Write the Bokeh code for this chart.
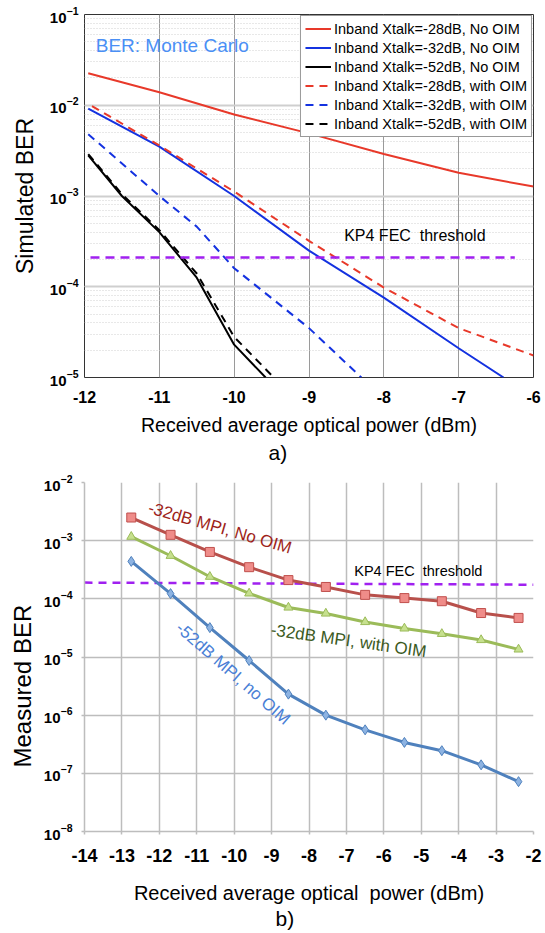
from bokeh.plotting import figure
from bokeh.models import Label, Title, FixedTicker, CustomJSTickFormatter
from bokeh.layouts import column
from bokeh.embed import file_html
from bokeh.resources import INLINE

FONT = "Liberation Sans"

# ---------------- (a) simulated BER data ----------------
x_28_no = [-11.95, -11, -10, -9, -8, -7, -6]
ber_28_no = [0.0225, 0.0139, 0.0079, 0.0049, 0.0029, 0.0018, 0.00127]

x_32_no = [-11.95, -11, -10, -9, -8, -7, -6.4]
ber_32_no = [9.2e-3, 3.5e-3, 1.0e-3, 2.5e-4, 7.6e-5, 2.1e-5, 1.0e-5]

x_52_no = [-11.95, -11.5, -11, -10.5, -10, -9.58]
ber_52_no = [2.8e-3, 1.0e-3, 4.0e-4, 1.26e-4, 2.3e-5, 1.0e-5]

x_28_with = [-11.9, -11, -10, -9, -8, -7, -6]
ber_28_with = [9.8e-3, 3.6e-3, 1.12e-3, 3.2e-4, 9.8e-5, 3.5e-5, 1.75e-5]

x_32_with = [-11.95, -11, -10.5, -10, -9, -8.3]
ber_32_with = [4.8e-3, 1.0e-3, 4.6e-4, 1.6e-4, 3.5e-5, 1.0e-5]

x_52_with = [-11.95, -11.5, -11, -10.5, -10, -9.47]
ber_52_with = [2.9e-3, 1.05e-3, 4.2e-4, 1.4e-4, 2.8e-5, 1.0e-5]

x_fec_a = [-11.92, -6.25]
ber_fec_a = [2.1e-4, 2.1e-4]

# ---------------- (b) measured BER data ----------------
x_meas = [-12.75, -11.7, -10.65, -9.6, -8.55, -7.55, -6.5, -5.45, -4.45, -3.4, -2.4]
meas_32_no = [2.5e-3, 1.26e-3, 6.4e-4, 3.5e-4, 2.1e-4, 1.6e-4, 1.17e-4, 1.03e-4, 9.1e-5, 5.7e-5, 4.7e-5]
meas_32_with = [1.17e-3, 5.5e-4, 2.4e-4, 1.24e-4, 7.1e-5, 5.6e-5, 4.0e-5, 3.1e-5, 2.5e-5, 1.96e-5, 1.35e-5]
meas_52_no = [4.4e-4, 1.23e-4, 3.2e-5, 8.7e-6, 2.3e-6, 1.0e-6, 5.6e-7, 3.4e-7, 2.45e-7, 1.4e-7, 7.2e-8]

x_fec_b = [-14, -2]
ber_fec_b = [1.9e-4, 1.75e-4]

ticks_a = [-12, -11, -10, -9, -8, -7, -6]
ticks_b = [-14, -13, -12, -11, -10, -9, -8, -7, -6, -5, -4, -3, -2]
decades_b = [1e-8, 1e-7, 1e-6, 1e-5, 1e-4, 1e-3, 1e-2]

hyphen_fmt = CustomJSTickFormatter(code="return tick.toFixed(0);")

# ================= figure (a) =================
p1 = figure(width=545, height=470, x_range=(-12, -6), y_range=(1e-5, 1e-1), y_axis_type="log",
            min_border_left=75, min_border_right=6, min_border_top=14, min_border_bottom=93,
            output_backend="svg", toolbar_location=None)
p1.xaxis.ticker = FixedTicker(ticks=ticks_a)
p1.xaxis.formatter = hyphen_fmt
p1.outline_line_color = "#333333"
p1.outline_line_width = 1
p1.xgrid.grid_line_color = "#9a9a9a"
p1.ygrid.grid_line_color = "#cfcfcf"
p1.ygrid.grid_line_width = 2
p1.ygrid.minor_grid_line_color = "#d0d0d0"
p1.ygrid.minor_grid_line_dash = "1 2"
for ax in (p1.xaxis, p1.yaxis):
    ax.axis_line_color = None
    ax.major_tick_line_color = None
    ax.minor_tick_line_color = None
    ax.major_tick_out = 0
    ax.major_tick_in = 0
    ax.minor_tick_out = 0
    ax.minor_tick_in = 0
    ax.major_label_text_font = FONT
    ax.major_label_text_font_style = "bold"
    ax.major_label_text_color = "black"
    ax.axis_label_text_font = FONT
    ax.axis_label_text_font_style = "normal"
    ax.axis_label_text_color = "black"
p1.xaxis.major_label_text_font_size = "16px"
p1.yaxis.major_label_text_font_size = "15px"
p1.xaxis.major_label_standoff = 13
p1.yaxis.major_label_standoff = 6
p1.xaxis.axis_label = "Received average optical power (dBm)"
p1.xaxis.axis_label_text_font_size = "19.5px"
p1.xaxis.axis_label_standoff = 8
p1.yaxis.axis_label = "Simulated BER"
p1.yaxis.axis_label_text_font_size = "23px"
p1.yaxis.axis_label_standoff = 9

red, blue, purple = "#e8392a", "#1432e0", "#a020f0"
p1.line(x_28_no, ber_28_no, color=red, line_width=2, legend_label="Inband Xtalk=-28dB, No OIM")
p1.line(x_32_no, ber_32_no, color=blue, line_width=2, legend_label="Inband Xtalk=-32dB, No OIM")
p1.line(x_52_no, ber_52_no, color="black", line_width=2, legend_label="Inband Xtalk=-52dB, No OIM")
p1.line(x_28_with, ber_28_with, color=red, line_width=2, line_dash="8 6", legend_label="Inband Xtalk=-28dB, with OIM")
p1.line(x_32_with, ber_32_with, color=blue, line_width=2, line_dash="8 6", legend_label="Inband Xtalk=-32dB, with OIM")
p1.line(x_52_with, ber_52_with, color="black", line_width=2, line_dash="8 6", legend_label="Inband Xtalk=-52dB, with OIM")
p1.line(x_fec_a, ber_fec_a, color=purple, line_width=2.5, line_dash="9 6")

lg = p1.legend[0]
lg.location = "top_right"
lg.label_text_font = FONT
lg.label_text_font_size = "14.5px"
lg.label_text_color = "black"
lg.label_height = 17
lg.glyph_height = 17
lg.glyph_width = 26
lg.spacing = 2
lg.padding = 4
lg.margin = 1
lg.label_standoff = 3
lg.border_line_color = "#333333"
lg.border_line_width = 1
lg.background_fill_alpha = 1

p1.add_layout(Label(x=-11.85, y=0.0455, text="BER: Monte Carlo", text_font=FONT,
                    text_font_size="19px", text_color="#4a8ff5", text_baseline="middle"))
p1.add_layout(Label(x=-8.53, y=3.66e-4, text="KP4 FEC\u00a0 threshold", text_font=FONT,
                    text_font_size="16px", text_color="black", text_baseline="middle"))
p1.add_layout(Title(text="a)", align="left", offset=184, text_font=FONT, text_font_size="21px",
                    text_font_style="normal", text_color="black", standoff=1), "below")

# ================= figure (b) =================
p2 = figure(width=545, height=463, x_range=(-14, -2), y_range=(1e-8, 1e-2), y_axis_type="log",
            min_border_left=84, min_border_right=12, min_border_top=12, min_border_bottom=102,
            output_backend="svg", toolbar_location=None)
p2.xaxis.ticker = FixedTicker(ticks=ticks_b)
p2.xaxis.formatter = hyphen_fmt
p2.yaxis.ticker = FixedTicker(ticks=decades_b)
p2.outline_line_color = None
for g in (p2.xgrid, p2.ygrid):
    g.grid_line_color = "#bdbdbd"
    g.grid_line_width = 1.5
for ax in (p2.xaxis, p2.yaxis):
    ax.axis_line_color = "#bdbdbd"
    ax.axis_line_width = 1.5
    ax.major_tick_line_color = "#bdbdbd"
    ax.major_tick_line_width = 1.5
    ax.major_tick_out = 3
    ax.major_tick_in = 0
    ax.minor_tick_out = 0
    ax.minor_tick_in = 0
    ax.minor_tick_line_color = None
    ax.major_label_text_font = FONT
    ax.major_label_text_font_style = "bold"
    ax.major_label_text_color = "black"
    ax.axis_label_text_font = FONT
    ax.axis_label_text_font_style = "normal"
    ax.axis_label_text_color = "black"
p2.xaxis.major_label_text_font_size = "18px"
p2.yaxis.major_label_text_font_size = "15px"
p2.xaxis.major_label_standoff = 14
p2.yaxis.major_label_standoff = 9
p2.xaxis.axis_label = "Received average optical\u00a0 power (dBm)"
p2.xaxis.axis_label_text_font_size = "20px"
p2.xaxis.axis_label_standoff = 17

p2.line(x_fec_b, ber_fec_b, color=purple, line_width=2.5, line_dash="8 6")
p2.line(x_meas, meas_32_no, color="#b8504b", line_width=3)
p2.scatter(x_meas, meas_32_no, marker="square", size=9, fill_color="#ef8c89", line_color="#c0504d", line_width=1)
p2.line(x_meas, meas_32_with, color="#9bbb59", line_width=3)
p2.scatter(x_meas, meas_32_with, marker="triangle", size=9, fill_color="#c6e08e", line_color="#9bbb59", line_width=1)
p2.line(x_meas, meas_52_no, color="#4f81bd", line_width=3)
p2.scatter(x_meas, meas_52_no, marker="diamond", size=10, fill_color="#8db3e2", line_color="#4f81bd", line_width=1)

p2.add_layout(Label(x=-10.38, y=1.66e-3, text="-32dB MPI, No OIM", text_font=FONT, text_font_size="17px",
                    text_color="#9e1f1a", angle=-0.28, text_align="center", text_baseline="middle"))
p2.add_layout(Label(x=-6.94, y=1.9e-5, text="-32dB MPI, with OIM", text_font=FONT, text_font_size="17px",
                    text_color="#3b5a1e", angle=-0.14, text_align="center", text_baseline="middle"))
p2.add_layout(Label(x=-10.03, y=5.2e-6, text="-52dB MPI, no OIM", text_font=FONT, text_font_size="17px",
                    text_color="#4a7fd6", angle=-0.72, text_align="center", text_baseline="middle"))
p2.add_layout(Label(x=-6.79, y=3.0e-4, text="KP4 FEC\u00a0 threshold", text_font=FONT,
                    text_font_size="14.5px", text_color="black", text_baseline="middle"))
p2.add_layout(Title(text="Measured BER", align="left", offset=64, text_font=FONT, text_font_size="24px",
                    text_font_style="normal", text_color="black", standoff=10), "left")
p2.add_layout(Title(text="b)", align="left", offset=191, text_font=FONT, text_font_size="21px",
                    text_font_style="normal", text_color="black", standoff=-3), "below")

layout = column(p1, p2, spacing=0)
open("out.html", "w").write(file_html(layout, INLINE))
